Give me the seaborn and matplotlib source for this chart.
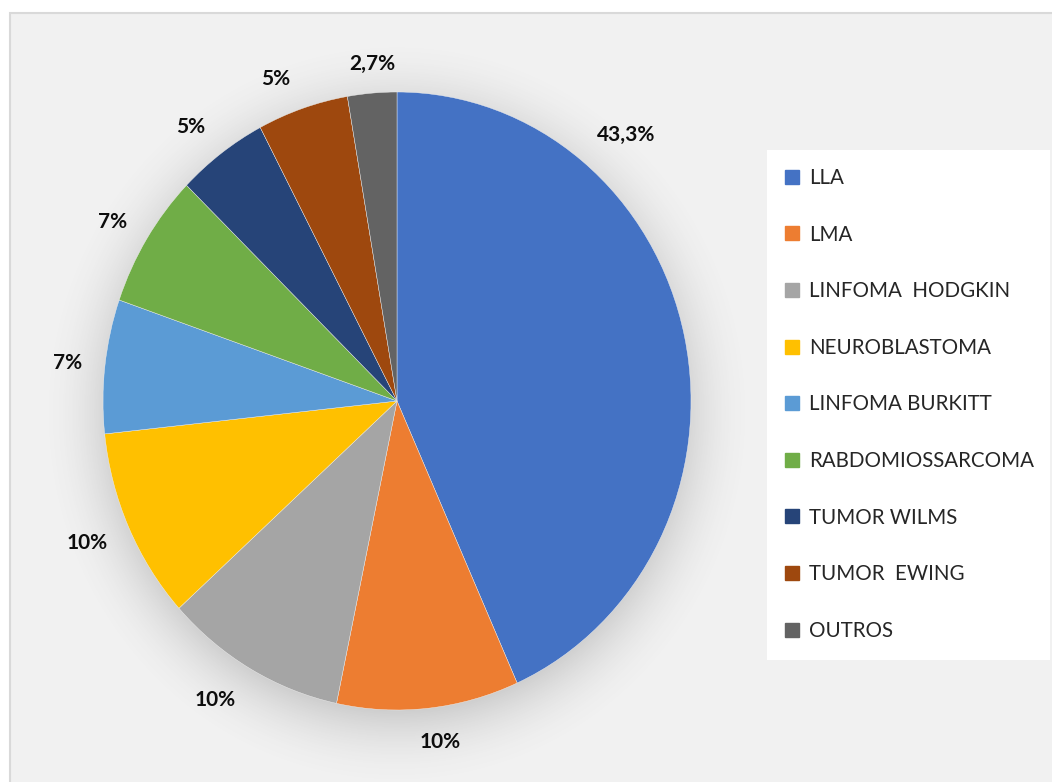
import numpy as np
import matplotlib
matplotlib.use("Agg")
import matplotlib.pyplot as plt
import seaborn as sns
from matplotlib.patches import Rectangle
from matplotlib.lines import Line2D

# ---- data ----
categories = ["LLA", "LMA", "LINFOMA  HODGKIN", "NEUROBLASTOMA", "LINFOMA BURKITT",
              "RABDOMIOSSARCOMA", "TUMOR WILMS", "TUMOR  EWING", "OUTROS"]
values = [43.3, 10, 10, 10, 7, 7, 5, 5, 2.7]
value_labels = ["43,3%", "10%", "10%", "10%", "7%", "7%", "5%", "5%", "2,7%"]
colors = ["#4472C4", "#ED7D31", "#A5A5A5", "#FFC000", "#5B9BD5",
          "#70AD47", "#264478", "#9E480E", "#636363"]

# ---- layout/style (label placement nudges) ----
label_r = [1.161, 1.113, 1.149, 1.150, 1.126, 1.129, 1.132, 1.120, 1.094]
label_angle_shift = [35.8, 1.4, -2.7, -0.5, 0.2, 0.8, 1.7, 2.9, -0.4]

sns.set_theme(style="white")
plt.rcParams['font.family'] = ['Lato', 'DejaVu Sans']

W, H = 1052, 782
fig = plt.figure(figsize=(W / 100, H / 100), dpi=100)
fig.patch.set_facecolor("white")

# chart area panel
fig.add_artist(Rectangle((10 / W, -0.01), 1.02, 1 - 13 / H + 0.01, transform=fig.transFigure,
                         facecolor="#F1F1F1", edgecolor="#D9D9D9", linewidth=1.5, zorder=0))

cx, cy, rx, ry = 397, 401, 294, 309
ax = fig.add_axes([(cx - rx) / W, 1 - (cy + ry) / H, 2 * rx / W, 2 * ry / H])
ax.set_facecolor("none")

# soft shadow
n = 500
g = np.linspace(-1.5, 1.5, n)
X, Y = np.meshgrid(g, g)
R = np.sqrt(X ** 2 + (Y + 0.04) ** 2)
t = np.clip((R - 0.9) / 0.32, 0, 1)
alpha = 0.36 * (1 - t) ** 2
img = np.zeros((n, n, 4))
img[..., 0:3] = 0.35
img[..., 3] = alpha
im = ax.imshow(img, extent=(-1.5, 1.5, -1.5, 1.5), origin="lower", zorder=0, interpolation="bilinear")
im.set_clip_on(False)

wedges, _ = ax.pie(values, colors=colors, startangle=90, counterclock=False,
                   wedgeprops=dict(linewidth=0.3, edgecolor="#F1F1F1"))
for w in wedges:
    w.set_zorder(2)
ax.set_aspect("auto")
ax.set_xlim(-1, 1)
ax.set_ylim(-1, 1)
ax.axis("off")

for i, w in enumerate(wedges):
    ang = np.deg2rad((w.theta1 + w.theta2) / 2 + label_angle_shift[i])
    ax.text(label_r[i] * np.cos(ang), label_r[i] * np.sin(ang), value_labels[i],
            ha="center", va="center", fontsize=15, fontweight="bold", color="#0D0D0D",
            clip_on=False, zorder=5)

# legend box
fig.add_artist(Rectangle((767 / W, 1 - 660 / H), (1050 - 767) / W, 510 / H, transform=fig.transFigure,
                         facecolor="white", edgecolor="none", zorder=1))
handles = [Line2D([], [], marker="s", linestyle="none", markersize=9.5,
                  markerfacecolor=c, markeredgecolor=c) for c in colors]
leg = fig.legend(handles, categories, loc="upper left", bbox_to_anchor=(782 / W, 1 - 168 / H),
                 frameon=False, fontsize=14.8, handlelength=1.0, handletextpad=0.3,
                 labelspacing=1.78, borderpad=0, borderaxespad=0)
for txt in leg.get_texts():
    txt.set_color("#262626")
leg.set_zorder(3)

fig.savefig("out.png", dpi=100, facecolor="white")
